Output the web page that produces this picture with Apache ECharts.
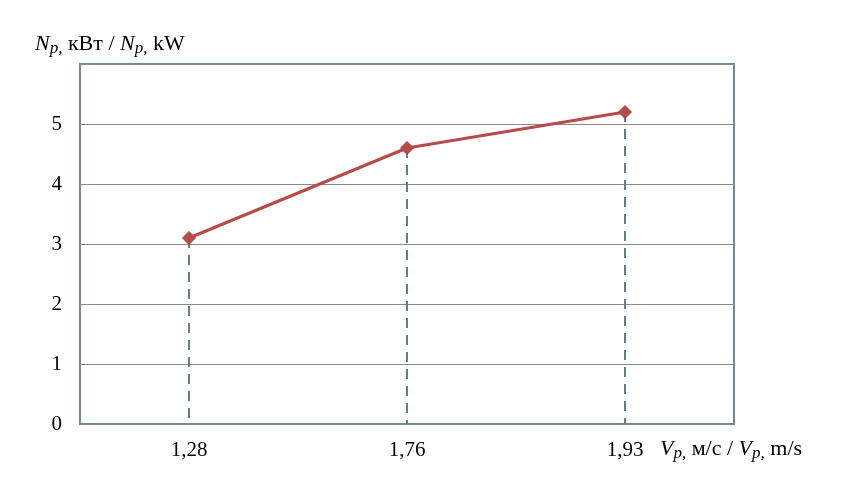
<!DOCTYPE html>
<html><head><meta charset="utf-8">
<script src="https://cdn.jsdelivr.net/npm/echarts@6/dist/echarts.min.js"></script>
<style>html,body{margin:0;padding:0;background:#fff}#c{width:848px;height:489px}</style>
</head><body><div id="c"></div>
<script>
const categories = ['1,28', '1,76', '1,93'];
const powerValues = [3.1, 4.6, 5.2];
const yTicks = [0, 1, 2, 3, 4, 5, 6];

const serif = '"Liberation Serif", "DejaVu Serif", serif';
const chart = echarts.init(document.getElementById('c'));
const dropData = categories.map((c, i) => [{coord: [c, powerValues[i]]}, {coord: [c, 0]}]);
const richStyles = {
  i: {fontStyle: 'italic', fontFamily: serif, fontSize: 22},
  s: {fontStyle: 'italic', fontFamily: serif, fontSize: 17, padding: [10, 0, 0, 0]}
};

chart.setOption({
  animation: false,
  backgroundColor: '#fff',
  grid: {left: 80, top: 64, right: 114, bottom: 65, show: true, borderColor: '#6d8a9c', borderWidth: 2, backgroundColor: 'transparent'},
  xAxis: {
    type: 'category', data: categories, boundaryGap: true,
    axisLine: {show: false}, axisTick: {show: false},
    axisLabel: {color: '#000', fontFamily: serif, fontSize: 21, margin: 16}
  },
  yAxis: {
    type: 'value', min: yTicks[0], max: yTicks[yTicks.length - 1], interval: 1,
    axisLine: {show: false}, axisTick: {show: false},
    axisLabel: {color: '#000', fontFamily: serif, fontSize: 21, margin: 18,
      formatter: v => (v === yTicks[yTicks.length - 1] ? '' : String(v))},
    splitLine: {show: true, lineStyle: {color: '#8a8a8a', width: 1}}
  },
  series: [{
    type: 'line', data: powerValues, symbol: 'diamond', symbolSize: 13,
    lineStyle: {color: '#b84a4a', width: 3},
    itemStyle: {color: '#b84a4a', borderColor: '#a04545', borderWidth: 1},
    z: 5,
    markLine: {
      silent: true, symbol: ['none', 'none'], label: {show: false},
      lineStyle: {type: [10, 7], color: '#5e7e96', width: 2},
      data: dropData, z: 3
    }
  }],
  graphic: [
    {type: 'text', left: 35, top: 33, style: {
      text: '{i|N}{s|p,} кВт / {i|N}{s|p,} kW',
      font: '22px ' + serif, fill: '#000', rich: richStyles
    }},
    {type: 'text', left: 660, top: 438, style: {
      text: '{i|V}{s|p,} м/с / {i|V}{s|p,} m/s',
      font: '22px ' + serif, fill: '#000', rich: richStyles
    }}
  ]
});
</script></body></html>
